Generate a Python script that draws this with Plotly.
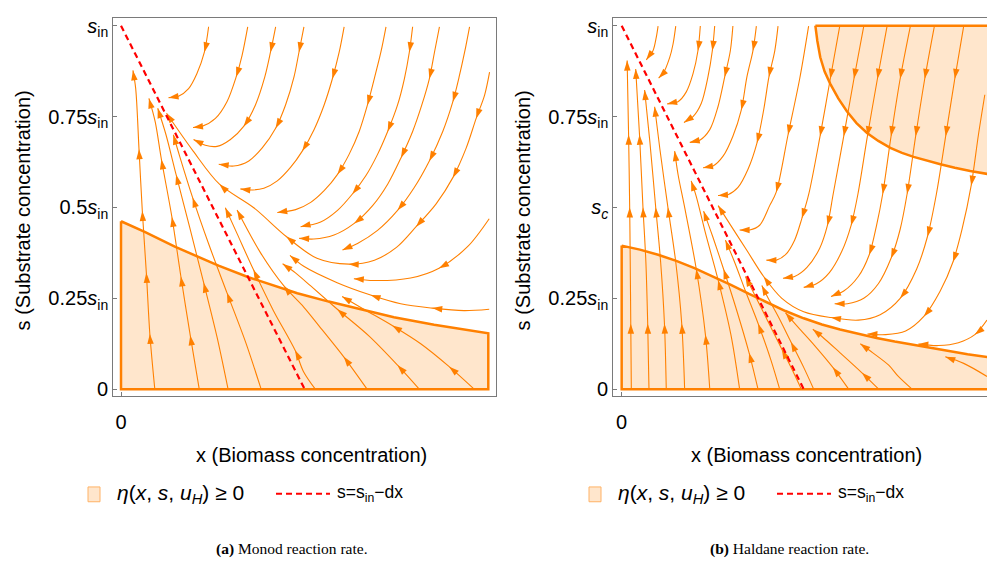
import math
import plotly.graph_objects as go

# ------------------------------------------------------------------ data
# x in units of s_in/d (dashed line hits s=0 at x=1), s in units of s_in
dash_x = [0.0, 1.0]
dash_s = [1.0, 0.0]

y_tickvals = [0, 0.25, 0.5, 0.75, 1.0]
a_y_ticktext = ["0", "0.25<i>s</i><sub>in</sub>", "0.5<i>s</i><sub>in</sub>",
                "0.75<i>s</i><sub>in</sub>", "<i>s</i><sub>in</sub>"]
b_y_ticktext = ["0", "0.25<i>s</i><sub>in</sub>", "<i>s<sub>c</sub></i>",
                "0.75<i>s</i><sub>in</sub>", "<i>s</i><sub>in</sub>"]

# Panel (a) Monod: boundary of eta >= 0 region
a_fill_x = [0.0, 0.129, 0.293, 0.412, 0.531, 0.694, 0.96, 1.131, 1.322, 1.486, 1.705, 1.85, 2.0, 2.0, 0.0, 0.0]
a_fill_s = [0.462, 0.433, 0.392, 0.365, 0.34, 0.308, 0.264, 0.241, 0.217, 0.198, 0.177, 0.166, 0.154, 0.0, 0.0, 0.462]

# Panel (b) Haldane: lower and upper eta >= 0 regions
b_lo_x = [0.0, 0.1, 0.2, 0.3, 0.4, 0.5, 0.6, 0.7, 0.8, 0.9, 1.0, 1.1, 1.2, 1.3, 1.4, 1.5, 1.6, 1.7, 1.8, 1.9, 2.06, 2.06, 0.0, 0.0]
b_lo_s = [0.395, 0.384, 0.37, 0.353, 0.333, 0.311, 0.287, 0.262, 0.238, 0.215, 0.195, 0.178, 0.164, 0.152, 0.141, 0.131, 0.122, 0.113, 0.104, 0.096, 0.085, 0.0, 0.0, 0.395]
b_hi_x = [1.064, 1.075, 1.091, 1.115, 1.146, 1.19, 1.238, 1.29, 1.348, 1.41, 1.476, 1.54, 1.604, 1.68, 1.751, 1.83, 1.915, 2.06, 2.06, 1.064]
b_hi_s = [1.0, 0.958, 0.913, 0.874, 0.84, 0.8, 0.764, 0.732, 0.705, 0.683, 0.664, 0.65, 0.639, 0.628, 0.619, 0.609, 0.6, 0.588, 1.0, 1.0]

# Panel (a) streamlines (points in flow order)
a_u1 = [[0.184, 0.0], [0.157, 0.152], [0.138, 0.32], [0.116, 0.49], [0.098, 0.66], [0.08, 0.827], [0.065, 0.877]]
a_u2 = [[0.426, 0.0], [0.377, 0.148], [0.326, 0.31], [0.277, 0.474], [0.22, 0.632], [0.186, 0.736], [0.152, 0.8]]
a_u3 = [[0.583, 0.0], [0.523, 0.143], [0.45, 0.293], [0.373, 0.447], [0.3, 0.59], [0.245, 0.7], [0.2, 0.773]]
a_u4 = [[0.763, 0.0], [0.678, 0.13], [0.577, 0.265], [0.477, 0.4], [0.39, 0.527], [0.32, 0.64], [0.285, 0.7]]
a_b1 = [[1.058, 0.0], [0.994, 0.048], [0.948, 0.107], [0.83, 0.216], [0.721, 0.329], [0.632, 0.428], [0.568, 0.499]]
a_b2 = [[1.34, 0.0], [1.213, 0.089], [1.077, 0.175], [0.995, 0.226], [0.887, 0.284], [0.76, 0.375], [0.632, 0.493]]
a_b3 = [[1.624, 0.0], [1.506, 0.066], [1.351, 0.146], [1.178, 0.22], [1.033, 0.284], [0.95, 0.32], [0.88, 0.345]]
a_b4 = [[1.923, 0.0], [1.787, 0.062], [1.632, 0.125], [1.477, 0.175], [1.322, 0.22], [1.204, 0.255]]
a_t1 = [[0.477, 0.997], [0.454, 0.927], [0.413, 0.868], [0.368, 0.827], [0.313, 0.806], [0.259, 0.802]]
a_t2 = [[0.69, 0.997], [0.659, 0.918], [0.627, 0.859], [0.577, 0.791], [0.514, 0.745], [0.441, 0.723], [0.392, 0.72]]
a_t3 = [[0.842, 0.997], [0.814, 0.927], [0.783, 0.859], [0.732, 0.782], [0.668, 0.723], [0.596, 0.687], [0.523, 0.668], [0.459, 0.671], [0.395, 0.687]]
a_t4 = [[0.996, 0.997], [0.969, 0.927], [0.942, 0.859], [0.896, 0.782], [0.842, 0.718], [0.769, 0.664], [0.696, 0.628], [0.614, 0.614], [0.532, 0.619]]
a_t5 = [[1.215, 0.997], [1.188, 0.927], [1.151, 0.854], [1.106, 0.782], [1.051, 0.714], [0.987, 0.655], [0.923, 0.61], [0.851, 0.573], [0.778, 0.553], [0.696, 0.548], [0.65, 0.551]]
a_t6 = [[1.443, 0.997], [1.415, 0.927], [1.379, 0.854], [1.342, 0.782], [1.297, 0.709], [1.242, 0.646], [1.179, 0.591], [1.106, 0.546], [1.033, 0.514], [0.951, 0.494], [0.851, 0.486]]
a_t7 = [[1.588, 0.997], [1.57, 0.927], [1.543, 0.854], [1.506, 0.782], [1.452, 0.709], [1.397, 0.646], [1.333, 0.587], [1.26, 0.537], [1.179, 0.492], [1.087, 0.46], [0.978, 0.447]]
a_t8 = [[1.734, 0.997], [1.707, 0.927], [1.679, 0.854], [1.638, 0.782], [1.588, 0.709], [1.525, 0.637], [1.452, 0.564], [1.37, 0.505], [1.27, 0.456], [1.16, 0.424], [1.05, 0.413], [0.97, 0.415]]
a_t9 = [[1.898, 0.997], [1.871, 0.927], [1.843, 0.863], [1.807, 0.791], [1.752, 0.709], [1.679, 0.628], [1.597, 0.555], [1.506, 0.492], [1.397, 0.437], [1.288, 0.401], [1.206, 0.383]]
a_r1 = [[2.007, 0.872], [1.98, 0.809], [1.934, 0.745], [1.88, 0.664], [1.807, 0.582], [1.716, 0.51], [1.607, 0.447], [1.5, 0.39], [1.38, 0.355], [1.24, 0.344], [1.067, 0.36], [0.9, 0.42], [0.721, 0.5], [0.536, 0.564], [0.393, 0.655], [0.248, 0.759]]
a_r2 = [[2.005, 0.469], [1.887, 0.392], [1.732, 0.333], [1.577, 0.306], [1.377, 0.299], [1.268, 0.304]]
a_r3 = [[2.005, 0.22], [1.868, 0.216], [1.695, 0.223], [1.523, 0.235], [1.359, 0.259], [1.177, 0.293], [0.995, 0.338], [0.92, 0.368]]

# Panel (b) streamlines
b_v1 = [[0.053, 0.0], [0.05, 0.18], [0.047, 0.35], [0.044, 0.5], [0.038, 0.7], [0.03, 0.904]]
b_v2 = [[0.15, 0.0], [0.143, 0.18], [0.133, 0.35], [0.117, 0.5], [0.098, 0.7], [0.077, 0.881]]
b_v3 = [[0.245, 0.0], [0.235, 0.18], [0.214, 0.35], [0.187, 0.5], [0.155, 0.68], [0.126, 0.823]]
b_v4 = [[0.346, 0.0], [0.33, 0.18], [0.297, 0.35], [0.254, 0.5], [0.21, 0.66], [0.181, 0.777]]
b_v5 = [[0.484, 0.0], [0.46, 0.15], [0.41, 0.33], [0.346, 0.5], [0.31, 0.59], [0.291, 0.655]]
b_v6 = [[0.648, 0.0], [0.6, 0.15], [0.53, 0.3], [0.46, 0.43], [0.41, 0.53], [0.382, 0.573]]
b_v7 = [[0.749, 0.0], [0.7, 0.1], [0.63, 0.22], [0.56, 0.33], [0.5, 0.42], [0.45, 0.49]]
b_v8 = [[0.868, 0.0], [0.82, 0.08], [0.75, 0.18], [0.68, 0.27], [0.62, 0.35], [0.57, 0.41]]
b_v9 = [[0.987, 0.0], [0.94, 0.05], [0.88, 0.11], [0.81, 0.18], [0.74, 0.25], [0.68, 0.31]]
b_w1 = [[1.055, 0.0], [1.0, 0.06], [0.93, 0.13], [0.86, 0.2], [0.8, 0.255], [0.77, 0.285]]
b_w2 = [[1.247, 0.0], [1.16, 0.06], [1.06, 0.12], [0.97, 0.17], [0.9, 0.21]]
b_w3 = [[1.412, 0.0], [1.32, 0.045], [1.2, 0.1], [1.1, 0.145], [1.05, 0.165]]
b_w4 = [[1.595, 0.0], [1.52, 0.035], [1.467, 0.066], [1.38, 0.1], [1.311, 0.125]]
b_w5 = [[2.007, 0.035], [1.879, 0.071], [1.778, 0.089]]
b_d1 = [[0.2, 0.999], [0.19, 0.968], [0.172, 0.931], [0.135, 0.906]]
b_d2 = [[0.297, 0.999], [0.282, 0.949], [0.264, 0.913], [0.227, 0.868], [0.203, 0.856]]
b_d3 = [[0.432, 0.999], [0.419, 0.931], [0.392, 0.868], [0.355, 0.818], [0.309, 0.791], [0.25, 0.785]]
b_d4 = [[0.511, 0.999], [0.498, 0.931], [0.474, 0.859], [0.437, 0.786], [0.392, 0.75], [0.342, 0.734]]
b_d5 = [[0.611, 0.999], [0.597, 0.931], [0.566, 0.859], [0.529, 0.777], [0.484, 0.714], [0.429, 0.685], [0.374, 0.679]]
b_d6 = [[0.74, 0.999], [0.721, 0.931], [0.688, 0.859], [0.657, 0.768], [0.611, 0.696], [0.557, 0.641], [0.502, 0.614], [0.447, 0.609]]
b_d7 = [[0.859, 0.999], [0.841, 0.931], [0.809, 0.859], [0.78, 0.768], [0.743, 0.677], [0.694, 0.605], [0.639, 0.555], [0.584, 0.535], [0.529, 0.533]]
b_d8 = [[1.027, 0.999], [0.978, 0.854], [0.914, 0.7], [0.849, 0.542], [0.813, 0.505], [0.758, 0.451], [0.703, 0.438], [0.648, 0.438]]
b_e1 = [[1.198, 0.999], [1.146, 0.854], [1.09, 0.696], [1.028, 0.537], [0.99, 0.47], [0.95, 0.41], [0.9, 0.37], [0.85, 0.355], [0.795, 0.355]]
b_e2 = [[1.33, 0.999], [1.276, 0.854], [1.22, 0.696], [1.162, 0.537], [1.13, 0.45], [1.088, 0.388], [1.018, 0.335], [0.95, 0.31], [0.886, 0.305]]
b_e3 = [[1.458, 0.999], [1.405, 0.854], [1.35, 0.696], [1.298, 0.537], [1.26, 0.45], [1.21, 0.38], [1.14, 0.32], [1.07, 0.29], [1.0, 0.28]]
b_e4 = [[1.586, 0.999], [1.53, 0.854], [1.48, 0.696], [1.434, 0.537], [1.4, 0.45], [1.36, 0.37], [1.3, 0.31], [1.22, 0.27], [1.15, 0.255]]
b_e5 = [[1.718, 0.999], [1.665, 0.854], [1.615, 0.696], [1.568, 0.537], [1.53, 0.44], [1.48, 0.36], [1.41, 0.29], [1.33, 0.25], [1.24, 0.235], [1.17, 0.235]]
b_e6 = [[1.879, 0.999], [1.83, 0.854], [1.78, 0.696], [1.729, 0.537], [1.68, 0.42], [1.62, 0.33], [1.53, 0.25], [1.42, 0.205], [1.3, 0.19], [1.15, 0.197], [1.0, 0.213], [0.88, 0.25], [0.78, 0.31], [0.69, 0.38], [0.6, 0.45], [0.53, 0.505]]
b_e7 = [[1.995, 0.81], [1.96, 0.7], [1.92, 0.56], [1.87, 0.44], [1.82, 0.35], [1.75, 0.27], [1.66, 0.2], [1.56, 0.16], [1.45, 0.15], [1.35, 0.152]]
b_r1 = [[2.007, 0.19], [1.94, 0.15], [1.85, 0.128], [1.74, 0.12], [1.63, 0.124]]

a_streams = [a_u1, a_u2, a_u3, a_u4, a_b1, a_b2, a_b3, a_b4, a_t1, a_t2, a_t3, a_t4,
             a_t5, a_t6, a_t7, a_t8, a_t9, a_r1, a_r2, a_r3]
b_streams = [b_v1, b_v2, b_v3, b_v4, b_v5, b_v6, b_v7, b_v8, b_v9, b_w1, b_w2, b_w3,
             b_w4, b_w5, b_d1, b_d2, b_d3, b_d4, b_d5, b_d6, b_d7, b_d8, b_e1, b_e2,
             b_e3, b_e4, b_e5, b_e6, b_e7, b_r1]

# ------------------------------------------------------------------ style / layout
W, H = 987, 566
ORANGE = "#FF8000"
FILL = "rgba(255,128,0,0.2)"
RED = "#FF0000"
FRAME = "#7a7a7a"
FONT = "Liberation Sans, Arial, sans-serif"
SERIF = "Liberation Serif, Times New Roman, serif"

Y_RANGE = [-0.0198, 1.0217]
Y_DOM = [1 - 398.3 / H, 1 - 15.0 / H]
XA_RANGE = [-0.042, 2.042]
XA_DOM = [113.3 / W, 496.0 / W]
XB_RANGE = [-0.046, 2.007]
XB_DOM = [613.3 / W, 1.0]

ARROW_GAP = 58.0
ARROW_SIZE = 10.5


def px_scale(dom, rng, size):
    return (dom[1] - dom[0]) * size / (rng[1] - rng[0])


SX_A = px_scale(XA_DOM, XA_RANGE, W)
SX_B = px_scale(XB_DOM, XB_RANGE, W)
SY = px_scale(Y_DOM, Y_RANGE, H)

fig = go.Figure()


def add_stream(pts, xa, ya, sx):
    xs = [p[0] for p in pts]
    ys = [p[1] for p in pts]
    fig.add_trace(go.Scatter(x=xs, y=ys, mode="lines",
                             line=dict(color=ORANGE, width=1.1, shape="spline", smoothing=0.9),
                             xaxis=xa, yaxis=ya, showlegend=False, hoverinfo="skip"))
    n = len(pts)
    P = [(p[0] * sx, p[1] * SY) for p in pts]
    sel = [n - 1]
    acc = 0.0
    for i in range(n - 2, 0, -1):
        acc += math.dist(P[i], P[i + 1])
        if acc >= ARROW_GAP:
            sel.append(i)
            acc = 0.0
    axs, ays, angs = [], [], []
    for i in sel:
        j0 = i - 1
        j1 = i + 1 if i < n - 1 else i
        dx = P[j1][0] - P[j0][0]
        dy = P[j1][1] - P[j0][1]
        angs.append(math.degrees(math.atan2(dx, dy)))
        axs.append(xs[i])
        ays.append(ys[i])
    fig.add_trace(go.Scatter(x=axs, y=ays, mode="markers",
                             marker=dict(symbol="arrow", size=ARROW_SIZE, angle=angs,
                                         color=ORANGE, line=dict(width=0)),
                             xaxis=xa, yaxis=ya, showlegend=False, hoverinfo="skip"))


# fills
fig.add_trace(go.Scatter(x=a_fill_x, y=a_fill_s, mode="lines", fill="toself", fillcolor=FILL,
                         line=dict(color=ORANGE, width=2.5), xaxis="x", yaxis="y",
                         showlegend=False, hoverinfo="skip"))
fig.add_trace(go.Scatter(x=b_lo_x, y=b_lo_s, mode="lines", fill="toself", fillcolor=FILL,
                         line=dict(color=ORANGE, width=2.5), xaxis="x2", yaxis="y2",
                         showlegend=False, hoverinfo="skip"))
fig.add_trace(go.Scatter(x=b_hi_x, y=b_hi_s, mode="lines", fill="toself", fillcolor=FILL,
                         line=dict(color=ORANGE, width=2.5), xaxis="x2", yaxis="y2",
                         showlegend=False, hoverinfo="skip"))

for st in a_streams:
    add_stream(st, "x", "y", SX_A)
for st in b_streams:
    add_stream(st, "x2", "y2", SX_B)

for xa, ya in (("x", "y"), ("x2", "y2")):
    fig.add_trace(go.Scatter(x=dash_x, y=dash_s, mode="lines",
                             line=dict(color=RED, width=2.2, dash="6px,4px"),
                             xaxis=xa, yaxis=ya, showlegend=False, hoverinfo="skip"))

axis_common = dict(showgrid=False, zeroline=False, showline=True, linecolor=FRAME,
                   linewidth=1.2, ticks="inside", ticklen=4, tickcolor=FRAME,
                   tickfont=dict(family=FONT, size=20, color="black"))

fig.update_layout(
    width=W, height=H, margin=dict(l=0, r=0, t=0, b=0),
    paper_bgcolor="white", plot_bgcolor="white", showlegend=False,
    xaxis=dict(domain=XA_DOM, range=XA_RANGE, tickvals=[0], ticktext=["0"], mirror=True,
               ticklabelstandoff=8, anchor="y", **axis_common),
    yaxis=dict(domain=Y_DOM, range=Y_RANGE, tickvals=y_tickvals, ticktext=a_y_ticktext,
               mirror=True, anchor="x", **axis_common),
    xaxis2=dict(domain=XB_DOM, range=XB_RANGE, tickvals=[0], ticktext=["0"], mirror=True,
                ticklabelstandoff=8, anchor="y2", **axis_common),
    yaxis2=dict(domain=Y_DOM, range=Y_RANGE, tickvals=y_tickvals, ticktext=b_y_ticktext,
                mirror=False, anchor="x2", **axis_common),
)


def P(xp, yp):
    return xp / W, 1 - yp / H


ann = []
shapes = []


def text_at(xp, yp, text, size, family=FONT, xanchor="center", angle=0):
    x, y = P(xp, yp)
    ann.append(dict(x=x, y=y, xref="paper", yref="paper", showarrow=False, text=text,
                    xanchor=xanchor, yanchor="middle", textangle=angle,
                    font=dict(family=family, size=size, color="black")))


for off, title_cx, ycx, cap_cx, cap in ((0, 311, 23, 292, "<b>(a)</b> Monod reaction rate."),
                                         (501, 806, 523, 789, "<b>(b)</b> Haldane reaction rate.")):
    text_at(title_cx, 458, "x (Biomass concentration)", 20)
    text_at(ycx, 210, "s (Substrate concentration)", 20, angle=-90)
    text_at(cap_cx, 553, cap, 15.5, family=SERIF)
    # legend
    x0, y0 = P(88 + off, 490)
    x1, y1 = P(100 + off, 505)
    shapes.append(dict(type="rect", xref="paper", yref="paper", x0=x0, y0=y0, x1=x1, y1=y1,
                       fillcolor="#FFE6CC", line=dict(color="#FFB266", width=1)))
    text_at(115 + off, 497, "<i>η</i>(<i>x</i>, <i>s</i>, <i>u</i><sub><i>H</i></sub>) ≥ 0",
            21, xanchor="left")
    x0, y0 = P(276 + off, 497)
    x1, _ = P(330 + off, 497)
    shapes.append(dict(type="line", xref="paper", yref="paper", x0=x0, y0=y0, x1=x1, y1=y0,
                       line=dict(color=RED, width=2, dash="6px,4px")))
    text_at(335 + off, 497, "s=s<sub>in</sub>−dx", 17.5, xanchor="left")

fig.update_layout(annotations=ann, shapes=shapes)
fig.write_html("out.html")
